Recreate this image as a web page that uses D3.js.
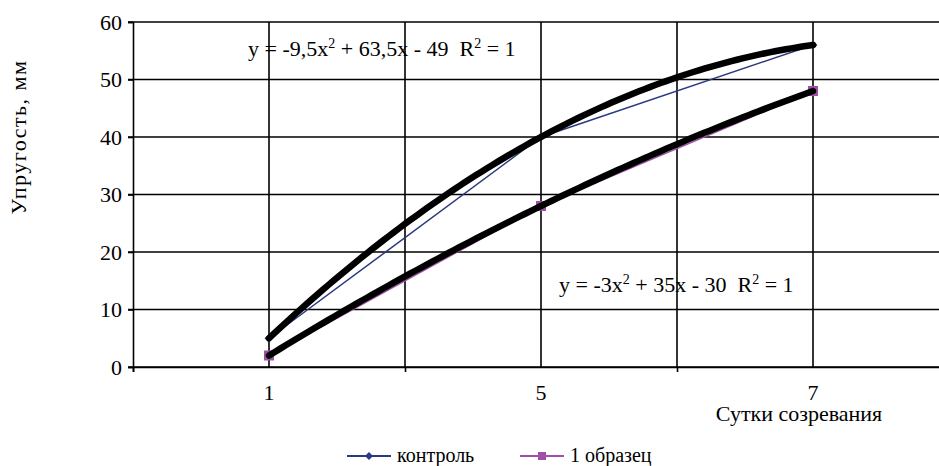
<!DOCTYPE html>
<html>
<head>
<meta charset="utf-8">
<script src="https://cdn.jsdelivr.net/npm/d3@7"></script>
<style>
  html, body { margin: 0; padding: 0; background: #fff; }
  svg { display: block; }
  text { font-family: "Liberation Serif", "Times New Roman", serif; fill: #000; }
</style>
</head>
<body>
<svg id="chart" width="939" height="466"></svg>
<script>
// Ripening days (category labels) and their positions on the x axis
const categories = ["1", "5", "7"];
const xPositions = [1, 2, 3];

// Elasticity, mm
const controlValues = [5, 40, 56];
const sampleValues = [2, 28, 48];

const yTicks = [0, 10, 20, 30, 40, 50, 60];

// Second-order polynomial trendlines (coefficients a, b, c for a*x^2 + b*x + c)
const controlTrend = [-9.5, 63.5, -49];
const sampleTrend = [-3, 35, -30];

const seriesNames = ["контроль", "1 образец"];
const seriesColors = ["#2b3a80", "#a050a8"];

const serif = "'Liberation Serif', 'Times New Roman', serif";
const svg = d3.select("#chart");

const x = d3.scaleLinear().domain([0.5, 3.5]).range([133, 949]);
const y = d3.scaleLinear().domain([0, 60]).range([367, 22]);

const fontSize = 22;

// Horizontal gridlines
svg.append("g")
  .selectAll("line")
  .data(yTicks)
  .join("line")
  .attr("x1", x(0.5) - 5).attr("x2", 939)
  .attr("y1", d => y(d)).attr("y2", d => y(d))
  .attr("stroke", "#000").attr("stroke-width", 1.6);

// Vertical gridlines at categories and at category boundaries
const vGrid = [1, 1.5, 2, 2.5, 3];
svg.append("g")
  .selectAll("line")
  .data(vGrid)
  .join("line")
  .attr("x1", d => x(d)).attr("x2", d => x(d))
  .attr("y1", y(60)).attr("y2", y(0))
  .attr("stroke", "#000").attr("stroke-width", 1.6);

// Y axis
const yAxis = svg.append("g")
  .attr("transform", `translate(${x(0.5)},0)`)
  .call(d3.axisLeft(y).tickValues(yTicks).tickSize(5).tickPadding(6));
yAxis.attr("font-family", serif).attr("font-size", fontSize);
yAxis.select(".domain").attr("stroke", "#000").attr("stroke-width", 1.6);
yAxis.selectAll(".tick line").attr("stroke", "#000").attr("stroke-width", 1.6);
yAxis.selectAll(".tick text").attr("fill", "#000");

// X axis: ticks at category boundaries, labels at category centres
const xAxis = svg.append("g")
  .attr("transform", `translate(0,${y(0)})`)
  .call(d3.axisBottom(x).tickValues([0.5, 1.5, 2.5, 3.5]).tickSize(5).tickFormat(""));
xAxis.select(".domain").attr("stroke", "#000").attr("stroke-width", 1.6);
xAxis.selectAll(".tick line").attr("stroke", "#000").attr("stroke-width", 1.6);

svg.append("g")
  .selectAll("text")
  .data(categories)
  .join("text")
  .attr("x", (d, i) => x(xPositions[i]))
  .attr("y", y(0) + 33)
  .attr("text-anchor", "middle")
  .attr("font-family", serif)
  .attr("font-size", fontSize)
  .text(d => d);

// Axis titles
svg.append("text")
  .attr("x", 799).attr("y", 421)
  .attr("text-anchor", "middle")
  .attr("font-family", serif)
  .attr("font-size", fontSize)
  .text("Сутки созревания");

svg.append("text")
  .attr("transform", "translate(26,137) rotate(-90)")
  .attr("text-anchor", "middle")
  .attr("font-family", serif)
  .attr("font-size", fontSize)
  .attr("letter-spacing", 1.5)
  .text("Упругость, мм");

// Data series lines and markers
const line = d3.line().x(d => x(d[0])).y(d => y(d[1]));
const series = [controlValues, sampleValues];

series.forEach((vals, s) => {
  const pts = vals.map((v, i) => [xPositions[i], v]);
  svg.append("path")
    .attr("d", line(pts))
    .attr("fill", "none")
    .attr("stroke", seriesColors[s])
    .attr("stroke-width", 1.5);
  if (s === 0) {
    svg.append("g").selectAll("path")
      .data(pts).join("path")
      .attr("transform", d => `translate(${x(d[0])},${y(d[1])})`)
      .attr("d", d3.symbol(d3.symbolDiamond2, 50)())
      .attr("fill", seriesColors[s]);
  } else {
    svg.append("g").selectAll("rect")
      .data(pts).join("rect")
      .attr("x", d => x(d[0]) - 5).attr("y", d => y(d[1]) - 5)
      .attr("width", 10).attr("height", 10)
      .attr("fill", seriesColors[s]);
  }
});

// Polynomial trendlines
const poly = (c, t) => c[0] * t * t + c[1] * t + c[2];
[controlTrend, sampleTrend].forEach(c => {
  const ts = d3.range(0, 101).map(i => 1 + i * 0.02);
  svg.append("path")
    .attr("d", line(ts.map(t => [t, poly(c, t)])))
    .attr("fill", "none")
    .attr("stroke", "#000")
    .attr("stroke-width", 6.5)
    .attr("stroke-linecap", "round");
});

// Trendline equations; objects in the list are superscripts
function equation(xPos, yPos, parts) {
  const t = svg.append("text")
    .attr("x", xPos).attr("y", yPos)
    .attr("font-family", serif)
    .attr("font-size", fontSize)
    .attr("xml:space", "preserve");
  let shift = 0;
  parts.forEach(p => {
    if (typeof p === "object") {
      t.append("tspan").attr("dy", -8).attr("font-size", 14).text(p.exp);
      shift = 8;
    } else {
      t.append("tspan").attr("dy", shift).text(p);
      shift = 0;
    }
  });
}
equation(248, 56, ["y = -9,5x", {exp: "2"}, " + 63,5x - 49  R", {exp: "2"}, " = 1"]);
equation(559, 292, ["y = -3x", {exp: "2"}, " + 35x - 30  R", {exp: "2"}, " = 1"]);

// Legend
const legend = [
  {x0: 347, name: seriesNames[0], color: seriesColors[0], shape: "diamond"},
  {x0: 520, name: seriesNames[1], color: seriesColors[1], shape: "square"}
];
const ly = 456;
legend.forEach(l => {
  svg.append("line")
    .attr("x1", l.x0).attr("x2", l.x0 + 44)
    .attr("y1", ly).attr("y2", ly)
    .attr("stroke", l.color).attr("stroke-width", 2);
  if (l.shape === "diamond") {
    svg.append("path")
      .attr("transform", `translate(${l.x0 + 22},${ly})`)
      .attr("d", d3.symbol(d3.symbolDiamond2, 40)())
      .attr("fill", l.color);
  } else {
    svg.append("rect")
      .attr("x", l.x0 + 18).attr("y", ly - 4)
      .attr("width", 8).attr("height", 8)
      .attr("fill", l.color);
  }
  svg.append("text")
    .attr("x", l.x0 + 50).attr("y", ly + 6)
    .attr("font-family", serif)
    .attr("font-size", 20)
    .text(l.name);
});
</script>
</body>
</html>
